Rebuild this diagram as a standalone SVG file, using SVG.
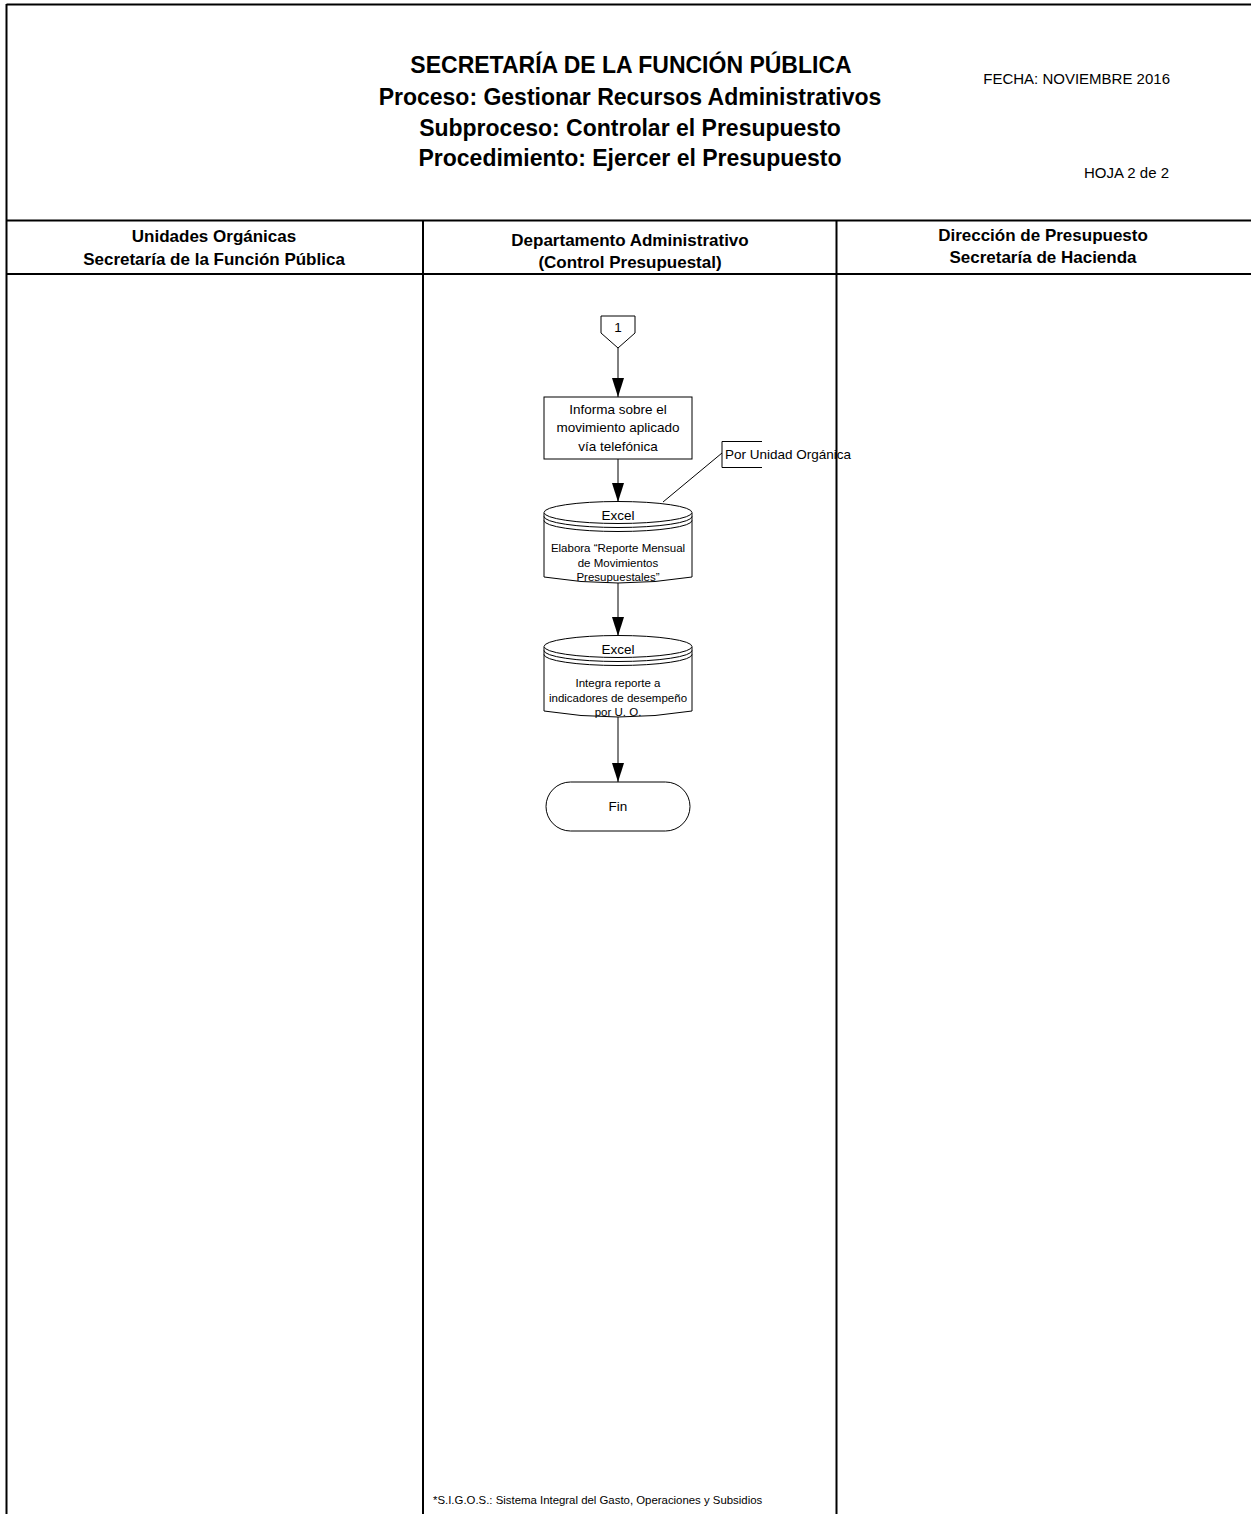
<svg xmlns="http://www.w3.org/2000/svg" width="1251" height="1514" viewBox="0 0 1251 1514">
<style>
text{font-family:"Liberation Sans",Arial,sans-serif;fill:#000}
.t{font-weight:bold;font-size:23px;text-anchor:middle}
.h{font-weight:bold;font-size:17px;text-anchor:middle}
.n{font-size:13.5px;text-anchor:middle}
.s{font-size:11.5px;text-anchor:middle}
.frame{stroke:#000;stroke-width:2;fill:none}
.shape{stroke:#000;stroke-width:1;fill:#fff}
.line{stroke:#000;stroke-width:1;fill:none}
</style>
<defs>
<marker id="a" markerWidth="20" markerHeight="12" refX="19" refY="6" orient="auto" markerUnits="userSpaceOnUse" viewBox="0 0 20 12">
<path d="M0,0 L19,6 L0,12 Z" fill="#000"/>
</marker>
</defs>
<g id="frame">
<line class="frame" x1="6.5" y1="4.5" x2="1251" y2="4.5"/>
<line class="frame" x1="6.5" y1="4" x2="6.5" y2="1514"/>
<line class="frame" x1="6.5" y1="220.5" x2="1251" y2="220.5"/>
<line class="frame" x1="6.5" y1="274" x2="1251" y2="274"/>
<line class="frame" x1="423" y1="220" x2="423" y2="1514"/>
<line class="frame" x1="836.5" y1="220" x2="836.5" y2="1514"/>
</g>
<g id="header">
<text class="t" x="631" y="73">SECRETARÍA DE LA FUNCIÓN PÚBLICA</text>
<text class="t" x="630" y="105">Proceso: Gestionar Recursos Administrativos</text>
<text class="t" x="630" y="136">Subproceso: Controlar el Presupuesto</text>
<text class="t" x="630" y="166">Procedimiento: Ejercer el Presupuesto</text>
<text x="1170" y="84" style="font-size:15px;text-anchor:end">FECHA: NOVIEMBRE 2016</text>
<text x="1169" y="178" style="font-size:15px;text-anchor:end">HOJA 2 de 2</text>
</g>
<g id="lanes">
<text class="h" x="214" y="242">Unidades Orgánicas</text>
<text class="h" x="214" y="265">Secretaría de la Función Pública</text>
<text class="h" x="630" y="246">Departamento Administrativo</text>
<text class="h" x="630" y="268">(Control Presupuestal)</text>
<text class="h" x="1043" y="241">Dirección de Presupuesto</text>
<text class="h" x="1043" y="263">Secretaría de Hacienda</text>
</g>
<g id="connectors">
<line class="line" x1="618" y1="348" x2="618" y2="397" marker-end="url(#a)"/>
<line class="line" x1="618" y1="459" x2="618" y2="502" marker-end="url(#a)"/>
<line class="line" x1="618" y1="583" x2="618" y2="636" marker-end="url(#a)"/>
<line class="line" x1="618" y1="717" x2="618" y2="782" marker-end="url(#a)"/>
<line class="line" x1="722" y1="453" x2="663" y2="502"/>
</g>
<g id="offpage1">
<path class="shape" d="M601,316 L635,316 L635,333 L618,348 L601,333 Z"/>
<text class="n" x="618" y="332">1</text>
</g>
<g id="informa">
<rect class="shape" x="544" y="397" width="148" height="62"/>
<text class="n" x="618" y="414">Informa sobre el</text>
<text class="n" x="618" y="432">movimiento aplicado</text>
<text class="n" x="618" y="451">vía telefónica</text>
</g>
<g id="annotation">
<path class="line" d="M762,441.5 L722,441.5 L722,467.5 L762,467.5"/>
<text x="725" y="459" style="font-size:13.5px">Por Unidad Orgánica</text>
</g>
<g id="elabora">
<path class="shape" d="M544,513 L544,577 Q618,589 692,577 L692,513"/>
<ellipse class="shape" cx="618" cy="512.5" rx="74" ry="11"/>
<path class="line" d="M544,516.5 A74,11 0 0 0 692,516.5"/>
<path class="line" d="M544,520.5 A74,11 0 0 0 692,520.5"/>
<text class="n" x="618" y="520">Excel</text>
<text class="s" x="618" y="552">Elabora “Reporte Mensual</text>
<text class="s" x="618" y="567">de Movimientos</text>
<text class="s" x="618" y="581">Presupuestales”</text>
</g>
<g id="integra">
<path class="shape" d="M544,647 L544,711 Q618,723 692,711 L692,647"/>
<ellipse class="shape" cx="618" cy="646.5" rx="74" ry="11"/>
<path class="line" d="M544,650.5 A74,11 0 0 0 692,650.5"/>
<path class="line" d="M544,654.5 A74,11 0 0 0 692,654.5"/>
<text class="n" x="618" y="654">Excel</text>
<text class="s" x="618" y="687">Integra reporte a</text>
<text class="s" x="618" y="702">indicadores de desempeño</text>
<text class="s" x="618" y="716">por U. O.</text>
</g>
<g id="fin">
<rect class="shape" x="546" y="782" width="144" height="49" rx="24.5" ry="24.5"/>
<text class="n" x="618" y="811">Fin</text>
</g>
<g id="footer">
<text x="433" y="1504" style="font-size:11.4px">*S.I.G.O.S.: Sistema Integral del Gasto, Operaciones y Subsidios</text>
</g>
</svg>
